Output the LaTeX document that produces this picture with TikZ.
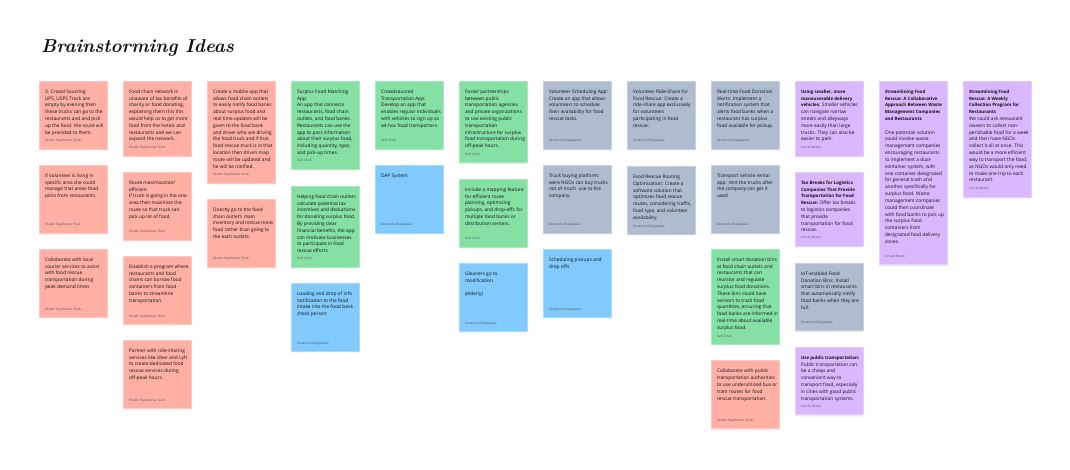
\documentclass[tikz,border=0pt]{standalone}
\usepackage{fontspec}
\usepackage{graphicx}
\usetikzlibrary{shadows}
\setmainfont{Open Sans}[BoldFont=Open Sans Bold,BoldFeatures={Scale=0.93}]
\newfontfamily\titlefont{Latin Modern Roman}
\definecolor{ink}{HTML}{111111}
\definecolor{byline}{HTML}{555555}
\definecolor{redcard}{HTML}{FFAFA3}
\definecolor{greencard}{HTML}{85E0A3}
\definecolor{bluecard}{HTML}{80CAFF}
\definecolor{graycard}{HTML}{AFBCCF}
\definecolor{violetcard}{HTML}{D9B8FF}
\tikzset{
  cardbox/.style={rectangle,anchor=north west,minimum width=68pt,inner sep=0pt,outer sep=0pt,line width=.4pt,
    general shadow={shadow xshift=0pt,shadow yshift=-1.2pt,fill=black,opacity=.05},
    general shadow={shadow xshift=0pt,shadow yshift=-2.2pt,fill=black,opacity=.03}},
  bodytext/.style={anchor=north west,inner sep=0pt,outer sep=0pt,align=left,text=ink,font=\fontsize{4.8}{6.83}\selectfont},
  authortext/.style={anchor=base west,inner sep=0pt,outer sep=0pt,text=byline,font=\fontsize{3.2}{3.7}\selectfont},
  titletext/.style={anchor=base west,inner sep=0pt,outer sep=0pt,text=ink,font=\fontsize{22}{26}\titlefont\bfseries\itshape},
}
\newcommand{\card}[7]{%
  \node[cardbox,fill=#5,draw=#5!70!white,minimum height=#4pt] (#1) at (#2,#3) {};
  \node[bodytext] (#1t) at ([xshift=6pt,yshift=-7.4pt]#1.north west) {\strut #6};
  \node[authortext] (#1a) at ([xshift=6pt,yshift=7pt]#1.south west) {#7};
}
\newcommand{\KR}{Khushi Rajivkumar Shah}
\newcommand{\RS}{Rahi Shah}
\newcommand{\DM}{Devanshu Magiawala}
\newcommand{\UM}{Unnati Mistry}
\begin{document}
\begin{tikzpicture}[x=1pt,y=-1pt]
\useasboundingbox (0,0) rectangle (1070,470);
\node[titletext] (title) at (41,52.5) {\resizebox{193pt}{!}{Brainstorming Ideas}};
% column 1
\card{aa}{39}{81}{68}{redcard}{3. Crowd Sourcing\\UPS, USPS Truck are\\empty by evening then\\these trucks can go to the\\restaurants and and pick\\up the food. the route will\\be provided to them.}{\KR}
\card{ab}{39}{165}{68}{redcard}{If volunteer is living in\\specific area she could\\manage that areas food\\picks from restaurants.}{\KR}
\card{ac}{39}{249}{68}{redcard}{Collaborate with local\\courier services to assist\\with food rescue\\transportation during\\peak demand times}{\KR}
% column 2
\card{ba}{123}{81}{75}{redcard}{Food chain network is\\unaware of tax benefits of\\charity or food donating,\\explaining them this this\\would help us to get more\\food from the hotels and\\restaurants and we can\\expand the network.}{\KR}
\card{bb}{123}{172}{68}{redcard}{Route maximization/\\efficient\\If truck is going in the one\\area then maximize the\\route so that truck can\\pick up lot of food.}{\KR}
\card{bc}{123}{256}{68}{redcard}{Establish a program where\\restaurants and food\\chains can borrow food\\containers from food\\banks to streamline\\transportation.}{\KR}
\card{bd}{123}{340}{68}{redcard}{Partner with ride-sharing\\services like Uber and Lyft\\to create dedicated food\\rescue services during\\off-peak hours.}{\KR}
% column 3
\card{ca}{207}{81}{102}{redcard}{Create a mobile app that\\allows food chain outlets\\to easily notify food banks\\about surplus food and\\real time updates will be\\given to the food bank\\and driver who are driving\\the food truck and if that\\food rescue truck is in that\\location then drive's map\\route will be updated and\\he will be notified.}{\KR}
\card{cb}{207}{199}{68}{redcard}{Directly go to the food\\chain outlet's main\\inventory and rescue more\\food rather than going to\\the each outlets.}{\KR}
% column 4
\card{da}{291}{81}{88}{greencard}{Surplus Food Matching\\App:\\An app that connects\\restaurants, food chain\\outlets, and food banks.\\Restaurants can use the\\app to post information\\about their surplus food,\\including quantity, type,\\and pick-up times.}{\RS}
\card{db}{291}{186}{81}{greencard}{Helping food chain outlets\\calculate potential tax\\incentives and deductions\\for donating surplus food.\\By providing clear\\financial benefits, the app\\can motivate businesses\\to participate in food\\rescue efforts}{\RS}
\card{dc}{291}{283}{68}{bluecard}{Loading and drop of info\\notification to the food\\intake into the food bank\\check person}{\DM}
% column 5
\card{ea}{375}{81}{68}{greencard}{Crowdsourced\\Transportation App:\\Develop an app that\\enables regular individuals\\with vehicles to sign up as\\ad-hoc food transporters.}{\RS}
\card{eb}{375}{165}{68}{bluecard}{DAP System}{\DM}
% column 6
\card{fa}{459}{81}{81.7}{greencard}{Foster partnerships\\between public\\transportation agencies\\and private organizations\\to use existing public\\transportation\\infrastructure for surplus\\food transportation during\\off-peak hours.}{\RS}
\card{fb}{459}{179}{68}{greencard}{Include a mapping feature\\for efficient route\\planning, optimizing\\pickups, and drop-offs for\\multiple food banks or\\distribution centers.}{\RS}
\card{fc}{459}{263}{68}{bluecard}{Gleaners go to\\modification\\\\(elderly)}{\DM}
% column 7
\card{ga}{543}{81}{68}{graycard}{Volunteer Scheduling App:\\Create an app that allows\\volunteers to schedule\\their availability for food\\rescue tasks.}{\DM}
\card{gb}{543}{165}{68}{graycard}{Truck buying platform:\\were NGOs can buy trucks\\not of much\ \ use to the\\company.}{\DM}
\card{gc}{543}{249}{68}{bluecard}{Scheduling pickups and\\drop offs}{\DM}
% column 8
\card{ha}{627}{81}{68}{graycard}{Volunteer Ride-Share for\\Food Rescue: Create a\\ride-share app exclusively\\for volunteers\\participating in food\\rescue.}{\DM}
\card{hb}{627}{166.3}{68}{graycard}{Food Rescue Routing\\Optimization: Create a\\software solution that\\optimizes food rescue\\routes, considering traffic,\\food type, and volunteer\\availability.}{\DM}
% column 9
\card{ia}{711}{81}{68}{graycard}{Real-time Food Donation\\Alerts: Implement a\\notification system that\\alerts food banks when a\\restaurant has surplus\\food available for pickup.}{\DM}
\card{ib}{711}{165}{68}{graycard}{Transport vehicle rental\\app: rent the trucks after\\the company can get it\\used}{\DM}
\card{ic}{711}{249}{95}{greencard}{Install smart donation bins\\at food chain outlets and\\restaurants that can\\monitor and regulate\\surplus food donations.\\These bins could have\\sensors to track food\\quantities, ensuring that\\food banks are informed in\\real-time about available\\surplus food.}{\RS}
\card{id}{711}{360.5}{68}{redcard}{Collaborate with public\\transportation authorities\\to use underutilized bus or\\tram routes for food\\rescue transportation.}{\KR}
% column 10
\card{ja}{795}{81}{75}{violetcard}{\textbf{Using smaller, more}\\\textbf{maneuverable delivery}\\\textbf{vehicles:} Smaller vehicles\\can navigate narrow\\streets and alleyways\\more easily than large\\trucks. They can also be\\easier to park.}{\UM}
\card{jb}{795}{172}{74}{violetcard}{\textbf{Tax Breaks for Logistics}\\\textbf{Companies That Provide}\\\textbf{Transportation for Food}\\\textbf{Rescue:} Offer tax breaks\\to logistics companies\\that provide\\transportation for food\\rescue.}{\UM}
\card{jc}{795}{263}{67.5}{graycard}{IoT-enabled Food\\Donation Bins: Install\\smart bins in restaurants\\that automatically notify\\food banks when they are\\full.}{\DM}
\card{jd}{795}{347}{67.5}{violetcard}{\textbf{Use public transportation:}\\Public transportation can\\be a cheap and\\convenient way to\\transport food, especially\\in cities with good public\\transportation systems.}{\UM}
% column 11
\card{ka}{879}{81}{183.5}{violetcard}{\textbf{Streamlining Food}\\\textbf{Rescue: A Collaborative}\\\textbf{Approach Between Waste}\\\textbf{Management Companies}\\\textbf{and Restaurants}\\\\One potential solution\\could involve waste\\management companies\\encouraging restaurants\\to implement a dual-\\container system, with\\one container designated\\for general trash and\\another specifically for\\surplus food. Waste\\management companies\\could then coordinate\\with food banks to pick up\\the surplus food\\containers from\\designated food delivery\\zones.}{\UM}
% column 12
\card{la}{963}{81}{116}{violetcard}{\textbf{Streamlining Food}\\\textbf{Rescue: A Weekly}\\\textbf{Collection Program for}\\\textbf{Restaurants}\\We could ask restaurant\\owners to collect non-\\perishable food for a week\\and then have NGOs\\collect it all at once. This\\would be a more efficient\\way to transport the food,\\as NGOs would only need\\to make one trip to each\\restaurant.}{\UM}
\end{tikzpicture}
\end{document}
